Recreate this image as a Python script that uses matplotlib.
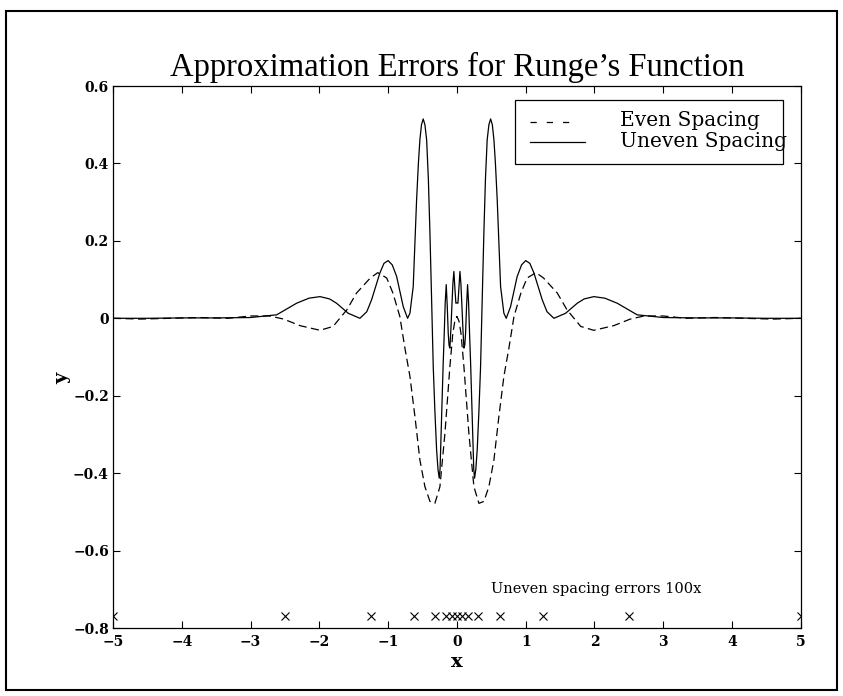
import numpy as np
import matplotlib.pyplot as plt
from matplotlib.patches import Rectangle
from matplotlib.lines import Line2D

# error of interpolant with evenly spaced nodes (dashed)
x_even = [-5.0, -4.6, -4.17, -3.75, -3.33, -3.0, -2.72, -2.52, -2.28, -1.99, -1.8,
          -1.6, -1.46, -1.26, -1.15, -1.02, -0.93, -0.83, -0.756, -0.683, -0.61,
          -0.538, -0.465, -0.392, -0.32, -0.247, -0.174, -0.102, -0.06, -0.03, 0.0,
          0.03, 0.06, 0.102, 0.174, 0.247, 0.32, 0.392, 0.465, 0.538, 0.61, 0.683,
          0.756, 0.83, 0.93, 1.02, 1.15, 1.26, 1.46, 1.6, 1.8, 1.99, 2.28, 2.52,
          2.72, 3.0, 3.33, 3.75, 4.17, 4.6, 5.0]
y_even = [0.0, -0.002, 0.0, 0.002, 0.0, 0.006, 0.006, -0.002, -0.019, -0.031, -0.021,
          0.022, 0.065, 0.104, 0.118, 0.104, 0.065, 0.005, -0.077, -0.150, -0.254,
          -0.366, -0.435, -0.473, -0.478, -0.435, -0.297, -0.125, -0.04, -0.007, 0.005,
          -0.007, -0.04, -0.125, -0.297, -0.435, -0.478, -0.473, -0.435, -0.366, -0.254, -0.150,
          -0.077, 0.005, 0.065, 0.104, 0.118, 0.104, 0.065, 0.022, -0.021, -0.031, -0.019, -0.002,
          0.006, 0.006, 0.0, 0.002, 0.0, -0.002, 0.0]

# error with unevenly spaced nodes, times 100 (solid)
x_uneven = [-5.0, -4.5, -4.0, -3.5, -3.0, -2.62, -2.33, -2.15, -1.99, -1.85, -1.75,
            -1.58, -1.41, -1.31, -1.24, -1.12, -1.06, -1.0, -0.94, -0.876, -0.78,
            -0.717, -0.683, -0.635, -0.586, -0.56, -0.538, -0.515, -0.49, -0.465,
            -0.44, -0.415, -0.392, -0.368, -0.344, -0.32, -0.295, -0.275, -0.257,
            -0.245, -0.23, -0.215, -0.2, -0.184, -0.17, -0.155, -0.14, -0.126, -0.114,
            -0.102, -0.088, -0.073, -0.058, -0.044, -0.03, -0.015, 0.0,
            0.015, 0.03, 0.044, 0.058, 0.073, 0.088, 0.102, 0.114, 0.126, 0.14, 0.155,
            0.17, 0.184, 0.2, 0.215, 0.23, 0.245, 0.257, 0.275, 0.295, 0.32, 0.344,
            0.368, 0.392, 0.415, 0.44, 0.465, 0.49, 0.515, 0.538, 0.56, 0.586, 0.635,
            0.683, 0.717, 0.78, 0.876, 0.94, 1.0, 1.06, 1.12, 1.24, 1.31, 1.41, 1.58,
            1.75, 1.85, 1.99, 2.15, 2.33, 2.62, 3.0, 3.5, 4.0, 4.5, 5.0]
y_uneven = [0.0, 0.0, 0.001, 0.001, 0.002, 0.009, 0.039, 0.052, 0.056, 0.05, 0.039,
            0.013, 0.0, 0.017, 0.048, 0.117, 0.142, 0.149, 0.138, 0.108, 0.03,
            0.0, 0.013, 0.082, 0.306, 0.40, 0.461, 0.50, 0.515, 0.50,
            0.461, 0.36, 0.22, 0.05, -0.125, -0.24, -0.34, -0.39, -0.413,
            -0.39, -0.30, -0.21, -0.12, -0.039, 0.04, 0.087, 0.03, -0.039, -0.07,
            -0.077, -0.03, 0.031, 0.09, 0.121, 0.08, 0.039, 0.04,
            0.039, 0.08, 0.121, 0.09, 0.031, -0.03, -0.077, -0.07, -0.039, 0.03, 0.087,
            0.04, -0.039, -0.12, -0.21, -0.30, -0.39, -0.413, -0.39, -0.34, -0.24, -0.125,
            0.05, 0.22, 0.36, 0.461, 0.50, 0.515, 0.50, 0.461, 0.40, 0.306, 0.082,
            0.013, 0.0, 0.03, 0.108, 0.138, 0.149, 0.142, 0.117, 0.048, 0.017, 0.0, 0.013,
            0.039, 0.05, 0.056, 0.052, 0.039, 0.009, 0.002, 0.001, 0.001, 0.0, 0.0]

# uneven nodes drawn as crosses near the bottom
x_nodes = [-5.0, -2.5, -1.25, -0.625, -0.3125, -0.15625, -0.078125, 0.0,
           0.078125, 0.15625, 0.3125, 0.625, 1.25, 2.5, 5.0]
y_nodes = [-0.77] * len(x_nodes)

x_ticks = [-5, -4, -3, -2, -1, 0, 1, 2, 3, 4, 5]
x_tick_labels = ['\u22125', '\u22124', '\u22123', '\u22122', '\u22121', '0', '1', '2', '3', '4', '5']
y_ticks = [-0.8, -0.6, -0.4, -0.2, 0, 0.2, 0.4, 0.6]
y_tick_labels = ['\u22120.8', '\u22120.6', '\u22120.4', '\u22120.2', '0', '0.2', '0.4', '0.6']

fig = plt.figure(figsize=(8.43, 6.96), dpi=100)
ax = fig.add_axes([0.134, 0.0977, 0.816, 0.7787])

dash = (0, (6.5, 3.5))
ax.plot(x_even, y_even, color='black', lw=0.9, linestyle=dash)
ax.plot(x_uneven, y_uneven, color='black', lw=0.9)
ax.plot(x_nodes, y_nodes, linestyle='none', marker='x', color='black', markersize=6, mew=0.8)

ax.set_xlim(-5, 5)
ax.set_ylim(-0.8, 0.6)
ax.set_xticks(x_ticks)
ax.set_xticklabels(x_tick_labels)
ax.set_yticks(y_ticks)
ax.set_yticklabels(y_tick_labels)
ax.tick_params(direction='in', top=True, right=True, length=5, width=0.8)
ax.tick_params(axis='x', pad=5)
ax.tick_params(axis='y', pad=3)
for lab in ax.get_xticklabels() + ax.get_yticklabels():
    lab.set_family('DejaVu Serif')
    lab.set_fontweight('bold')
    lab.set_fontsize(10)
for sp in ax.spines.values():
    sp.set_linewidth(0.9)

ax.set_xlabel('x', family='DejaVu Serif', fontweight='bold', fontsize=14, labelpad=3)
ax.set_ylabel('y', family='DejaVu Serif', fontweight='bold', fontsize=14)
ax.yaxis.set_label_coords(-0.06, 0.46)
ax.set_title("Approximation Errors for Runge\u2019s Function", family='Liberation Serif',
             fontsize=23.5, pad=7)

ax.text(0.5, -0.7, 'Uneven spacing errors 100x', family='DejaVu Serif', fontsize=10.5,
        va='center', ha='left')

# hand-made legend, the text runs past the box like the original
ax.add_patch(Rectangle((0.585, 0.857), 0.389, 0.117, transform=ax.transAxes,
                       facecolor='white', edgecolor='black', lw=0.9, zorder=5))
ax.add_line(Line2D([0.606, 0.674], [0.934, 0.934], transform=ax.transAxes,
                   color='black', lw=0.9, linestyle=(0, (5, 8)), zorder=6))
ax.add_line(Line2D([0.606, 0.686], [0.897, 0.897], transform=ax.transAxes,
                   color='black', lw=0.9, zorder=6))
ax.text(0.737, 0.936, 'Even Spacing', transform=ax.transAxes, family='DejaVu Serif',
        fontsize=14.5, va='center', ha='left', zorder=6)
ax.text(0.737, 0.897, 'Uneven Spacing', transform=ax.transAxes, family='DejaVu Serif',
        fontsize=14.5, va='center', ha='left', zorder=6)

# frame round the whole figure
fig.patches.append(Rectangle((6 / 843, 6 / 696), 831 / 843, 679 / 696, transform=fig.transFigure,
                             fill=False, edgecolor='black', lw=1.5))

fig.savefig('out.png', dpi=100)
